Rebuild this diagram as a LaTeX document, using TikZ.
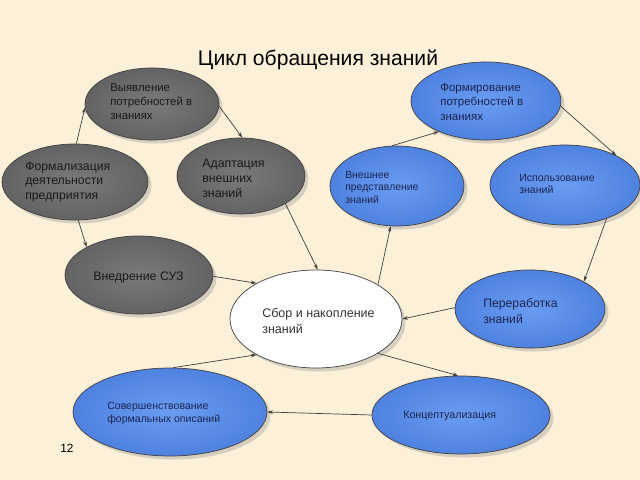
\documentclass[tikz,border=0pt]{standalone}
\usepackage{fontspec}
\setmainfont{Liberation Sans}
\usetikzlibrary{shapes.geometric,arrows.meta,shadows}
\definecolor{bgcream}{HTML}{FCF0D9}
\definecolor{grayin}{HTML}{7A7A7A}
\definecolor{grayout}{HTML}{636363}
\definecolor{bluein}{HTML}{6A9CF2}
\definecolor{blueout}{HTML}{4F82E0}
\definecolor{bluetext}{HTML}{1C2450}

\begin{document}
\begin{tikzpicture}[x=0.025cm,y=-0.025cm,
  oval/.style 2 args={ellipse,draw=black!75,line width=0.5pt,inner sep=0pt,
    minimum width={2*#1*0.025cm},minimum height={2*#2*0.025cm},
    drop shadow={shadow xshift=2.5pt,shadow yshift=-2.5pt,opacity=0.3}},
  grayoval/.style={inner color=grayin,outer color=grayout},
  blueoval/.style={inner color=bluein,outer color=blueout},
  whiteoval/.style={fill=white},
  txt/.style={anchor=west,inner sep=0pt,align=left,text=black!90},
  bluetxt/.style={txt,text=bluetext},
  conn/.style={-{Stealth[length=4pt,width=2.6pt]},draw=black!75,line width=0.5pt}]
	%%Background
	\fill[bgcream] (0,0) rectangle (640,480);
	\useasboundingbox (0,0) rectangle (640,480);
	
	%%Ovals
	\node[oval={67}{36},grayoval] (vyyav) at (152,104) {};
	\node[oval={73}{38},grayoval] (formal) at (75,182) {};
	\node[oval={64}{38},grayoval] (adapt) at (241,176) {};
	\node[oval={74}{39},grayoval] (vnedr) at (139,275) {};
	\node[oval={86}{49},whiteoval] (sbor) at (316,319) {};
	\node[oval={75}{39},blueoval] (formir) at (486,101) {};
	\node[oval={67}{40},blueoval] (vnesh) at (397,186) {};
	\node[oval={75}{40},blueoval] (ispol) at (565,185) {};
	\node[oval={75}{39},blueoval] (perer) at (530,309) {};
	\node[oval={97}{44},blueoval] (sovers) at (170,412) {};
	\node[oval={89}{39},blueoval] (koncep) at (461,415) {};
	
	%%Title
	\node (title) at (318,60) {\fontsize{15}{18}\selectfont Цикл обращения знаний};
	\node (num) at (67,448) {\fontsize{8.5}{10}\selectfont 12};
	
	%%Labels
	\node[txt,font=\fontsize{8.1}{10}\selectfont] (vyyavtxt) at (110,102)
	     {Выявление\\потребностей в\\знаниях};
	\node[txt,font=\fontsize{8.7}{10.4}\selectfont] (formaltxt) at (25,182)
	     {Формализация\\деятельности\\предприятия};
	\node[txt,font=\fontsize{8.8}{10.6}\selectfont] (adapttxt) at (202,178)
	     {Адаптация\\внешних\\знаний};
	\node[txt,font=\fontsize{8.8}{12}\selectfont] (vnedrtxt) at (93,277)
	     {Внедрение СУЗ};
	\node[txt,text=black!80,font=\fontsize{8.9}{12}\selectfont] (sbortxt) at (262,321)
	     {Сбор и накопление\\знаний};
	\node[bluetxt,font=\fontsize{8.2}{10.3}\selectfont] (formirtxt) at (440,102)
	     {Формирование\\потребностей в\\знаниях};
	\node[bluetxt,font=\fontsize{7.4}{8.9}\selectfont] (vneshtxt) at (345,187)
	     {Внешнее\\представление\\знаний};
	\node[bluetxt,font=\fontsize{7.5}{8.9}\selectfont] (ispoltxt) at (519,184)
	     {Использование\\знаний};
	\node[bluetxt,font=\fontsize{8.7}{11.3}\selectfont] (perertxt) at (483,311)
	     {Переработка\\знаний};
	\node[bluetxt,font=\fontsize{7.5}{9.3}\selectfont] (soverstxt) at (107,413)
	     {Совершенствование\\формальных описаний};
	\node[bluetxt,font=\fontsize{7.6}{10}\selectfont] (konceptxt) at (403,416)
	     {Концептуализация};
	
	%%Arrows
	\draw[conn] (formal.88) -- (vyyav.183);
	\draw[conn] (vyyav.-2) -- (adapt.88);
	\draw[conn] (formal.-85) -- (vnedr.152);
	\draw[conn] (adapt.-32) -- (sbor.88);
	\draw[conn] (vnedr.-1) -- (sbor.149);
	\draw[conn] (sbor.29) -- (vnesh.-99);
	\draw[conn] (vnesh.97) -- (formir.213);
	\draw[conn] (formir.-4) -- (ispol.30);
	\draw[conn] (ispol.-39) -- (perer.27);
	\draw[conn] (perer.179) -- (sbor.0);
	\draw[conn] (sbor.-29) -- (koncep.94);
	\draw[conn] (koncep.180) -- (sovers.0);
	\draw[conn] (sovers.86) -- (sbor.211);
\end{tikzpicture}
\end{document}
